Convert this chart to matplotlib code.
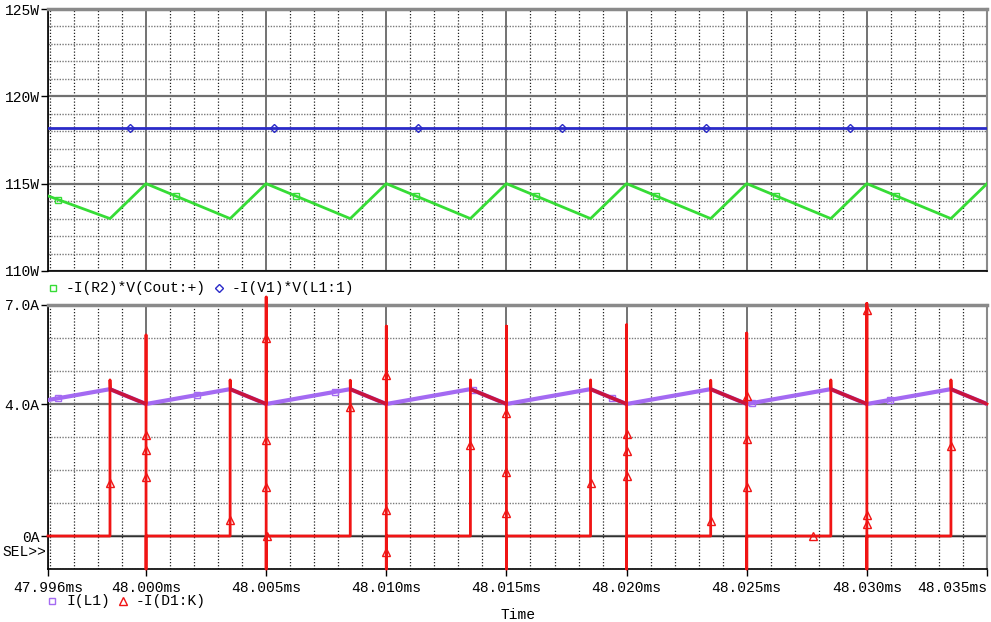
import numpy as np
import matplotlib
matplotlib.use("Agg")
import matplotlib.pyplot as plt
from matplotlib.lines import Line2D
from matplotlib.ticker import MultipleLocator

plt.rcParams['font.family'] = ['Liberation Mono', 'DejaVu Sans Mono']

# ---------------- data ----------------
x_start_ms = 47.99592
x_end_ms = 48.035
x_tick_ms = [47.99592, 48.000, 48.005, 48.010, 48.015, 48.020, 48.025, 48.030, 48.035]
x_tick_labels = ['47.996ms', '48.000ms', '48.005ms', '48.010ms', '48.015ms',
                 '48.020ms', '48.025ms', '48.030ms', '48.035ms']

switch_on_ms = [48.000, 48.005, 48.010, 48.015, 48.020, 48.025, 48.030]
switch_off_ms = [47.9985, 48.0035, 48.0085, 48.0135, 48.0185, 48.0235, 48.0285, 48.0335]

# upper plot: powers (W)
pout_start_w = 114.3
pout_peak_w = 115.0
pout_trough_w = 113.0
pin_w = 118.2
pout_marker_ms = [47.99634, 48.00125, 48.00624, 48.01124, 48.01623, 48.02122, 48.02622, 48.03121]
pin_marker_ms = [47.99933, 48.00533, 48.01132, 48.01731, 48.02330, 48.02930]
top_yticks = [110, 115, 120, 125]
top_ylabels = ['110W', '115W', '120W', '125W']

# lower plot: currents (A)
il_start_a = 4.12
il_valley_a = 4.0
il_peak_a = 4.45
il_marker_ms = [47.99634, 48.00212, 48.00787, 48.01361, 48.01939, 48.02522, 48.03096]
diode_off_spike_a = [4.73, 4.73, 4.72, 4.73, 4.73, 4.72, 4.73, 4.73]
diode_on_spike_hi_a = [6.09, 7.24, 6.36, 6.36, 6.40, 6.15, 7.05]
diode_on_spike_lo_a = [-1.0, -1.0, -1.0, -1.0, -1.0, -1.0, -1.0]
diode_marker_ms = [47.9985, 48.000, 48.000, 48.000, 48.0035, 48.005, 48.005, 48.005, 48.00505,
                   48.0085, 48.010, 48.010, 48.010, 48.0135, 48.015, 48.015, 48.015,
                   48.0185, 48.020, 48.020, 48.020, 48.0235, 48.025, 48.025, 48.025,
                   48.02774, 48.030, 48.030, 48.030, 48.0335]
diode_marker_a = [1.6, 3.06, 2.6, 1.8, 0.48, 6.0, 2.9, 1.5, 0.0,
                  3.9, 4.88, 0.8, -0.47, 2.76, 3.72, 1.95, 0.69,
                  1.6, 3.09, 2.58, 1.83, 0.45, 4.24, 2.93, 1.48,
                  0.0, 6.85, 0.64, 0.35, 2.73]
bot_yticks = [0, 4, 7]
bot_ylabels = ['0A', '4.0A', '7.0A']

# ---------------- build piecewise waveforms from the read vertices ----------------
events = sorted([(t, 'off', i) for i, t in enumerate(switch_off_ms)] +
                [(t, 'on', i) for i, t in enumerate(switch_on_ms)])

pout_t, pout_v = [x_start_ms], [pout_start_w]
il_t, il_v = [x_start_ms], [il_start_a]
d_t, d_v = [x_start_ms], [0.0]
for t, kind, i in events:
    if kind == 'off':
        pout_t.append(t); pout_v.append(pout_trough_w)
        il_t.append(t); il_v.append(il_peak_a)
        d_t += [t, t, t + 0.00001]
        d_v += [0.0, diode_off_spike_a[i], il_peak_a]
    else:
        pout_t.append(t); pout_v.append(pout_peak_w)
        il_t.append(t); il_v.append(il_valley_a)
        d_t += [t, t, t, t, t + 0.00001]
        d_v += [il_valley_a, diode_on_spike_hi_a[i], diode_on_spike_lo_a[i], 0.0, 0.0]
pout_t.append(x_end_ms); pout_v.append(pout_peak_w)
il_t.append(x_end_ms); il_v.append(il_valley_a)
d_t.append(x_end_ms); d_v.append(il_valley_a)

# ---------------- figure ----------------
W, H = 991, 622
fig = plt.figure(figsize=(W / 100, H / 100), dpi=100)

def px_axes(left, top, right, bottom):
    return fig.add_axes([left / W, 1 - bottom / H, (right - left) / W, (bottom - top) / H])

ax1 = px_axes(48, 9, 987, 271)
ax2 = px_axes(48, 305, 987, 569)

GREEN = '#36dc36'
BLUE = '#2a2ac8'
PURPLE = '#a46af2'
RED = '#f01414'
CRIMSON = '#c8143e'
FS = 10.5

for ax in (ax1, ax2):
    ax.set_xlim(x_start_ms, x_end_ms)
    ax.set_facecolor('white')
    ax.xaxis.set_minor_locator(MultipleLocator(0.001))
    ax.set_xticks(x_tick_ms)
    ax.grid(which='major', axis='x', color='#5a5a5a', lw=1.2, ls='-')
    ax.grid(which='minor', axis='x', color='#202020', lw=0.9, ls=(0, (1, 1.5)))
    ax.grid(which='major', axis='y', color='#707070', lw=1.6, ls='-')
    ax.grid(which='minor', axis='y', color='#7a7a7a', lw=1.0, ls=(0, (1, 1)))
    ax.set_axisbelow(True)
    ax.spines['top'].set_color('#8a8a8a'); ax.spines['top'].set_linewidth(2.5)
    ax.spines['right'].set_color('#8a8a8a'); ax.spines['right'].set_linewidth(1.5)
    ax.spines['left'].set_color('black'); ax.spines['left'].set_linewidth(1.2)
    ax.spines['bottom'].set_color('black'); ax.spines['bottom'].set_linewidth(1.2)
    ax.tick_params(axis='y', which='major', length=5, width=1, pad=1, labelsize=FS, colors='black')
    ax.tick_params(axis='y', which='minor', length=0)
    ax.tick_params(axis='x', which='minor', length=0)

# upper plot
ax1.set_ylim(110, 125)
ax1.set_yticks(top_yticks)
ax1.set_yticklabels(top_ylabels)
ax1.yaxis.set_minor_locator(MultipleLocator(1))
ax1.tick_params(axis='x', which='major', length=0, labelbottom=False)
ax1.plot(pout_t, pout_v, color=GREEN, lw=2, zorder=3)
ax1.plot(pout_marker_ms, np.interp(pout_marker_ms, pout_t, pout_v), ls='none', marker='s',
         ms=5, mfc='none', mec=GREEN, mew=1, zorder=4)
ax1.plot([x_start_ms, x_end_ms], [pin_w, pin_w], color=BLUE, lw=2, zorder=3)
ax1.plot(pin_marker_ms, [pin_w] * len(pin_marker_ms), ls='none', marker='D',
         ms=4, mfc='none', mec=BLUE, mew=1, zorder=4)

# lower plot
ax2.set_ylim(-1, 7)
ax2.set_yticks(bot_yticks)
ax2.set_yticklabels(bot_ylabels)
ax2.yaxis.set_minor_locator(MultipleLocator(1))
ax2.set_xticklabels(x_tick_labels)
ax2.tick_params(axis='x', which='major', length=5, width=1, pad=4, labelsize=FS, colors='black')
ax2.get_xticklabels()[-1].set_ha('right')
ax2.axhline(0, color='#303030', lw=1.0, zorder=1)

ax2.plot(il_t, il_v, color=PURPLE, lw=3, zorder=3, solid_joinstyle='miter')
ax2.plot(il_marker_ms, np.interp(il_marker_ms, il_t, il_v), ls='none', marker='s',
         ms=5, mfc='none', mec=PURPLE, mew=1, zorder=4)
ax2.plot(d_t, d_v, color=RED, lw=2, zorder=5, clip_on=False)
# diode conduction segments that coincide with I(L1)
for toff, ton in zip(switch_off_ms, switch_on_ms + [x_end_ms]):
    ax2.plot([toff, ton], [il_peak_a, il_valley_a], color=CRIMSON, lw=2.6, zorder=6,
             solid_capstyle='butt')
ax2.plot(diode_marker_ms, diode_marker_a, ls='none', marker='^', ms=5.5, mfc='none',
         mec=RED, mew=1, zorder=7, clip_on=False)

# ---------------- legends and labels ----------------
def ftext(x, y, s, **kw):
    fig.text(x / W, 1 - y / H, s, fontsize=FS, color='black', va='center', **kw)

def fmark(x, y, marker, color, ms):
    fig.add_artist(Line2D([x / W], [1 - y / H], transform=fig.transFigure, ls='none',
                          marker=marker, ms=ms, mfc='none', mec=color, mew=1))

fmark(53, 288, 's', GREEN, 5)
ftext(66, 288, '-I(R2)*V(Cout:+)')
fmark(219, 288, 'D', BLUE, 4)
ftext(232, 288, '-I(V1)*V(L1:1)')

fmark(52, 601, 's', PURPLE, 5)
ftext(66, 601, 'I(L1)')
fmark(123, 601, '^', RED, 5.5)
ftext(136, 601, '-I(D1:K)')

ftext(2, 552, 'SEL>>')
ftext(518, 615, 'Time', ha='center')

fig.savefig('out.png', dpi=100)
